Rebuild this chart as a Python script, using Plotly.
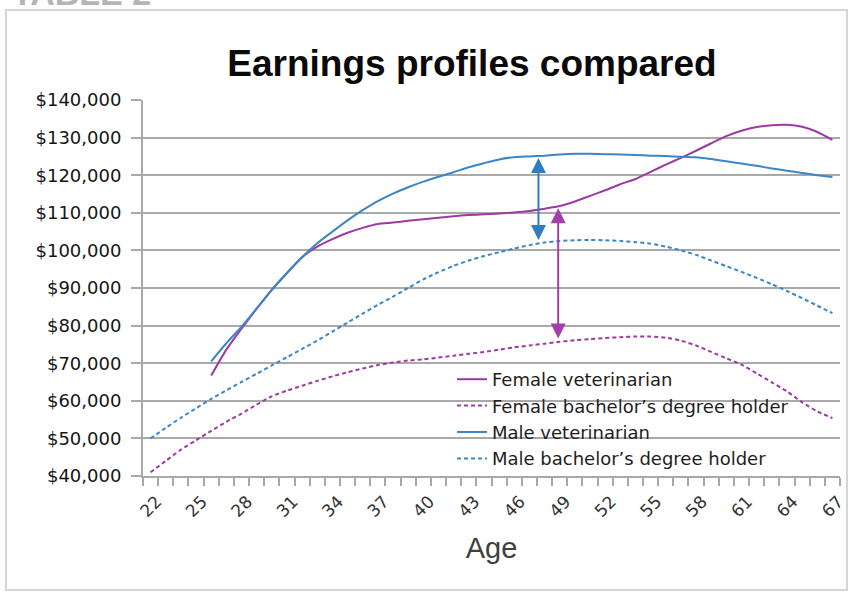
import numpy as np
import plotly.graph_objects as go

# ---------------- data ----------------
ages = list(range(22, 68))
vet_ages = list(range(26, 68))
tick_ages = list(range(22, 68, 3))

female_vet = [66700, 73600, 79200, 84500, 89500, 94000, 98200, 101000, 103000, 104700,
              106000, 107000, 107400, 107900, 108300, 108700, 109100, 109400, 109600, 109800,
              110100, 110500, 111100, 111800, 113000, 114500, 116000, 117600, 119000, 120900,
              122800, 124600, 126500, 128500, 130400, 131800, 132800, 133300, 133400, 132900,
              131500, 129400]
male_vet = [70500, 75300, 79700, 84500, 89500, 94000, 98200, 101900, 105000, 108000,
            110700, 113100, 115100, 116800, 118300, 119600, 120800, 122100, 123200, 124200,
            124800, 125000, 125200, 125500, 125700, 125700, 125600, 125500, 125400, 125200,
            125100, 124900, 124800, 124300, 123700, 123100, 122500, 121800, 121200, 120600,
            120000, 119500]
female_bach = [41000, 44000, 47000, 49500, 52000, 54400, 56600, 59000, 61200, 62700,
               64000, 65300, 66500, 67600, 68600, 69500, 70200, 70700, 71000, 71500,
               72000, 72500, 73000, 73600, 74200, 74700, 75200, 75700, 76100, 76400,
               76700, 76900, 77100, 77100, 76800, 76000, 74700, 73000, 71300, 69600,
               67300, 64900, 62500, 59600, 57200, 55400]
male_bach = [50000, 52800, 55500, 58000, 60500, 62800, 65000, 67200, 69400, 71600,
             73800, 76000, 78400, 80800, 83200, 85500, 87700, 90000, 92300, 94200,
             95900, 97300, 98500, 99500, 100500, 101400, 102100, 102500, 102700, 102800,
             102700, 102500, 102200, 101800, 101000, 100000, 98800, 97300, 95800, 94300,
             92700, 91000, 89200, 87300, 85300, 83300]

series_names = ["Female veterinarian", "Female bachelor\u2019s degree holder",
                "Male veterinarian", "Male bachelor\u2019s degree holder"]
gap_ages = [47.6, 48.9]   # ages where the gap arrows are drawn (male, female)

PURPLE = "#9C3AA4"
BLUE = "#3A86C6"
GRID = "#A9A9A9"

# ---------------- layout geometry (pixels) ----------------
W, H = 851, 595
L, R, T, B = 143, 11, 100, 119
PW, PH = W - L - R, H - T - B


def px2paper_x(px):
    return (px - L) / PW


def px2paper_y(py):
    return (H - B - py) / PH


fig = go.Figure()

fig.add_trace(go.Scatter(x=vet_ages, y=female_vet, name=series_names[0], mode="lines",
                         line=dict(color=PURPLE, width=2, shape="spline", smoothing=0.6)))
fig.add_trace(go.Scatter(x=ages, y=female_bach, name=series_names[1], mode="lines",
                         line=dict(color=PURPLE, width=2, dash="4px,3px", shape="spline", smoothing=0.6)))
fig.add_trace(go.Scatter(x=vet_ages, y=male_vet, name=series_names[2], mode="lines",
                         line=dict(color=BLUE, width=2, shape="spline", smoothing=0.6)))
fig.add_trace(go.Scatter(x=ages, y=male_bach, name=series_names[3], mode="lines",
                         line=dict(color=BLUE, width=2, dash="4px,3px", shape="spline", smoothing=0.6)))

# gap arrows (derived from series values)
m_top = float(np.interp(gap_ages[0], vet_ages, male_vet))
m_bot = float(np.interp(gap_ages[0], ages, male_bach))
f_top = float(np.interp(gap_ages[1], vet_ages, female_vet))
f_bot = float(np.interp(gap_ages[1], ages, female_bach))
for a, top, bot, col in [(gap_ages[0], m_top, m_bot, "#2F7DC0"), (gap_ages[1], f_top, f_bot, "#A23FAA")]:
    fig.add_annotation(x=a, y=top, ax=a, ay=bot, xref="x", yref="y", axref="x", ayref="y",
                       text="", showarrow=True, arrowhead=2, arrowside="end+start",
                       arrowsize=1.5, arrowwidth=2, arrowcolor=col, standoff=2, startstandoff=2)

# "TABLE 2" heading, clipped at top edge
fig.add_annotation(text="<b>TABLE 2</b>", xref="paper", yref="paper",
                   x=px2paper_x(10), y=px2paper_y(-7), xanchor="left", yanchor="middle",
                   showarrow=False, font=dict(family="Liberation Sans", size=34, color="#B5B5B5"))

# outer frame
fig.add_shape(type="rect", xref="paper", yref="paper",
              x0=px2paper_x(6), x1=px2paper_x(847), y0=px2paper_y(590), y1=px2paper_y(10),
              line=dict(color="#D6D6D6", width=2), layer="below")

# legend backdrop: hides gridlines behind the legend but stays under the data lines
fig.add_shape(type="rect", xref="paper", yref="paper",
              x0=px2paper_x(445), x1=px2paper_x(794), y0=px2paper_y(470), y1=px2paper_y(367),
              line=dict(width=0), fillcolor="white", layer="between")

fig.update_layout(
    width=W, height=H,
    margin=dict(l=L, r=R, t=T, b=B),
    paper_bgcolor="white", plot_bgcolor="white",
    title=dict(text="<b>Earnings profiles compared</b>", x=472 / W, xanchor="center",
               y=1 - 63 / H, yanchor="middle",
               font=dict(family="Liberation Sans", size=37, color="#0A0A0A")),
    font=dict(family="DejaVu Sans", color="#222222"),
    showlegend=True,
    legend=dict(x=px2paper_x(452), y=px2paper_y(361), xanchor="left", yanchor="top",
                bgcolor="rgba(0,0,0,0)", borderwidth=0,
                font=dict(family="DejaVu Sans", size=18, color="#1E1E1E"),
                tracegroupgap=0, itemwidth=30),
)

fig.update_xaxes(
    range=[21.5, 67.5], tickvals=tick_ages, ticktext=[str(a) for a in tick_ages],
    tickangle=-45, ticks="", showgrid=False, zeroline=False,
    showline=True, linecolor=GRID, linewidth=2,
    tickfont=dict(family="DejaVu Sans", size=17, color="#333333"),
    ticklabelshift=6, ticklabelstandoff=7,
    minor=dict(tick0=21.5, dtick=1, ticks="outside", ticklen=8, tickcolor=GRID, tickwidth=2, showgrid=False),
    title=dict(text="Age", font=dict(family="Liberation Sans", size=29, color="#404040"), standoff=18),
    automargin=False,
)
fig.update_yaxes(
    range=[40000, 140000], dtick=10000, tickformat="$,.0f",
    ticks="outside", ticklen=10, tickcolor=GRID, tickwidth=2,
    showgrid=True, gridcolor=GRID, gridwidth=2, zeroline=False,
    showline=True, linecolor=GRID, linewidth=2,
    tickfont=dict(family="DejaVu Sans", size=18, color="#151515"),
    ticklabelstandoff=6,
    automargin=False,
)

fig.write_html("out.html")
